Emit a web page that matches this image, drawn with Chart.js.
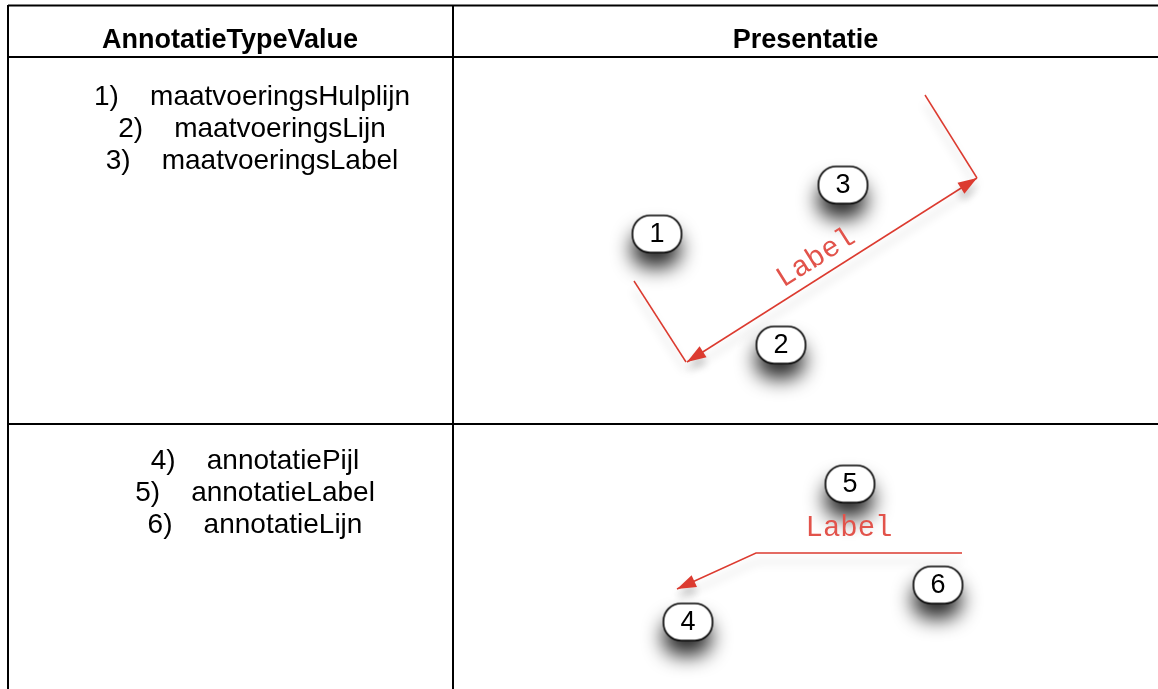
<!DOCTYPE html>
<html><head><meta charset="utf-8">
<script src="https://cdn.jsdelivr.net/npm/chart.js@4.4.1/dist/chart.umd.min.js"></script>
<style>html,body{margin:0;padding:0;background:#fff;overflow:hidden}#wrap{width:1158px;height:689px;position:relative}canvas{display:block}</style>
</head><body><div id="wrap"><canvas id="c" width="1158" height="689"></canvas></div>
<script>
// ---------- data ----------
const columnHeaders = ['AnnotatieTypeValue', 'Presentatie'];
const maatvoeringTypes = ['maatvoeringsHulplijn', 'maatvoeringsLijn', 'maatvoeringsLabel'];
const annotatieTypes = ['annotatiePijl', 'annotatieLabel', 'annotatieLijn'];
const labelText = 'Label';
const markerNumbers = ['1', '2', '3', '4', '5', '6'];
const markerX = [657, 781, 843, 688, 850, 938];
const markerY = [234, 345, 185, 622, 484, 585];
const hulplijnLeftX = [634, 686], hulplijnLeftY = [281, 362];
const hulplijnRightX = [925, 977], hulplijnRightY = [95, 178];
const maatlijnX = [687, 977], maatlijnY = [362, 178];
const annotatieLijnX = [962, 756, 677], annotatieLijnY = [553, 553, 589];
const tableRowsY = [5.5, 57, 424];
const tableColsX = [8, 453];
const tableExtentX = [8, 1158], tableExtentY = [5, 689];

// ---------- helpers ----------
const pts = (xs, ys) => xs.map((x, i) => ({x, y: ys[i]}));
const RED = '#dc3b30';
const FONT = '"Liberation Sans", Arial, sans-serif';

function makePill(w, h) {
  const m = 50;
  const c = document.createElement('canvas');
  c.width = w + 2 * m; c.height = h + 2 * m;
  const g = c.getContext('2d');
  const r = h / 2 - 1;
  const path = () => { g.beginPath(); g.roundRect(m, m, w, h, r); };
  g.save();
  g.shadowColor = 'rgba(0,0,0,0.85)';
  g.shadowBlur = 20;
  g.shadowOffsetY = 15;
  g.shadowOffsetX = -1;
  path(); g.fillStyle = '#fff'; g.fill();
  g.restore();
  path(); g.lineWidth = 1.6; g.strokeStyle = '#000'; g.stroke();
  return c;
}
const pill = makePill(49, 37);

const datasets = [];
tableRowsY.forEach(y => datasets.push({data: pts(tableExtentX, [y, y]), borderColor: '#000', borderWidth: 2, order: 3}));
tableColsX.forEach(x => datasets.push({data: pts([x, x], tableExtentY), borderColor: '#000', borderWidth: 2, order: 3}));
datasets.push({data: pts(hulplijnLeftX, hulplijnLeftY), borderColor: RED, borderWidth: 1.5, order: 2, shadow: true});
datasets.push({data: pts(hulplijnRightX, hulplijnRightY), borderColor: RED, borderWidth: 1.5, order: 2, shadow: true});
datasets.push({data: pts(maatlijnX, maatlijnY), borderColor: RED, borderWidth: 1.5, order: 2, shadow: true, arrows: ['start', 'end'], label: labelText});
datasets.push({data: pts(annotatieLijnX, annotatieLijnY), borderColor: RED, borderWidth: 1.5, order: 2, shadow: true, arrows: ['end']});
datasets.push({data: pts(markerX, markerY), showLine: false, pointStyle: pill, pointRadius: 20, order: 0, markers: markerNumbers});
datasets.forEach(d => { d.clip = false; if (d.showLine !== false) { d.showLine = true; d.pointRadius = 0; } });

const shadowPlugin = {
  id: 'shadow',
  beforeDatasetDraw(chart, args) {
    const ds = chart.data.datasets[args.index];
    if (ds.shadow) {
      const ctx = chart.ctx; ctx.save();
      ctx.shadowColor = 'rgba(0,0,0,0.22)'; ctx.shadowBlur = 10; ctx.shadowOffsetY = 9;
    }
  },
  afterDatasetDraw(chart, args) {
    const ds = chart.data.datasets[args.index];
    if (ds.shadow) chart.ctx.restore();
  }
};

function arrowHead(ctx, tip, from, len, half) {
  const a = Math.atan2(tip.y - from.y, tip.x - from.x);
  ctx.save(); ctx.translate(tip.x, tip.y); ctx.rotate(a);
  ctx.beginPath(); ctx.moveTo(0, 0); ctx.lineTo(-len, -half); ctx.lineTo(-len, half); ctx.closePath();
  ctx.fill(); ctx.restore();
}

const decorPlugin = {
  id: 'decor',
  afterDatasetsDraw(chart) {
    const ctx = chart.ctx;
    const sx = chart.scales.x, sy = chart.scales.y;
    chart.data.datasets.forEach((ds, i) => {
      if (!ds.arrows) return;
      const el = chart.getDatasetMeta(i).data;
      ctx.save(); ctx.fillStyle = RED;
      ctx.shadowColor = 'rgba(0,0,0,0.22)'; ctx.shadowBlur = 8; ctx.shadowOffsetY = 7;
      if (ds.arrows.includes('start')) arrowHead(ctx, el[0], el[1], 19, 6.5);
      if (ds.arrows.includes('end')) arrowHead(ctx, el[el.length - 1], el[el.length - 2], 19, 6.5);
      ctx.restore();
    });
    chart.data.datasets.forEach((ds, i) => {
      if (!ds.markers) return;
      const el = chart.getDatasetMeta(i).data;
      ctx.save(); ctx.fillStyle = '#000'; ctx.font = '27px ' + FONT;
      ctx.textAlign = 'center'; ctx.textBaseline = 'middle';
      el.forEach((p, k) => ctx.fillText(ds.markers[k], p.x, p.y + 1));
      ctx.restore();
    });
    ctx.save();
    ctx.fillStyle = '#e2534b'; ctx.font = '29px "Liberation Mono", "Courier New", monospace';
    ctx.textAlign = 'center'; ctx.textBaseline = 'middle';
    const m = chart.getDatasetMeta(datasets.findIndex(d => d.label === labelText)).data;
    const ang = Math.atan2(m[1].y - m[0].y, m[1].x - m[0].x);
    ctx.save(); ctx.translate(sx.getPixelForValue(816), sy.getPixelForValue(258)); ctx.rotate(ang);
    ctx.fillText(labelText, 0, 0); ctx.restore();
    ctx.fillText(labelText, sx.getPixelForValue(849), sy.getPixelForValue(528));
    ctx.restore();
    ctx.save(); ctx.fillStyle = '#000'; ctx.textAlign = 'center'; ctx.textBaseline = 'alphabetic';
    ctx.font = 'bold 27px ' + FONT;
    ctx.fillText(columnHeaders[0], sx.getPixelForValue(230), sy.getPixelForValue(48));
    ctx.fillText(columnHeaders[1], sx.getPixelForValue(805.5), sy.getPixelForValue(48));
    ctx.font = '28px ' + FONT;
    maatvoeringTypes.forEach((t, k) => ctx.fillText((k + 1) + ')    ' + t, sx.getPixelForValue(252), sy.getPixelForValue(105 + 32 * k)));
    annotatieTypes.forEach((t, k) => ctx.fillText((k + 4) + ')    ' + t, sx.getPixelForValue(255), sy.getPixelForValue(469 + 32 * k)));
    ctx.restore();
  }
};

new Chart(document.getElementById('c'), {
  type: 'scatter',
  data: {datasets},
  options: {
    responsive: false, animation: false, devicePixelRatio: 1, events: [],
    layout: {padding: 0, autoPadding: false},
    plugins: {legend: {display: false}, tooltip: {enabled: false}},
    elements: {line: {tension: 0, borderCapStyle: 'butt'}},
    scales: {
      x: {type: 'linear', min: 0, max: 1158, display: false},
      y: {type: 'linear', min: 0, max: 689, reverse: true, display: false}
    }
  },
  plugins: [shadowPlugin, decorPlugin]
});
</script>
</body></html>
